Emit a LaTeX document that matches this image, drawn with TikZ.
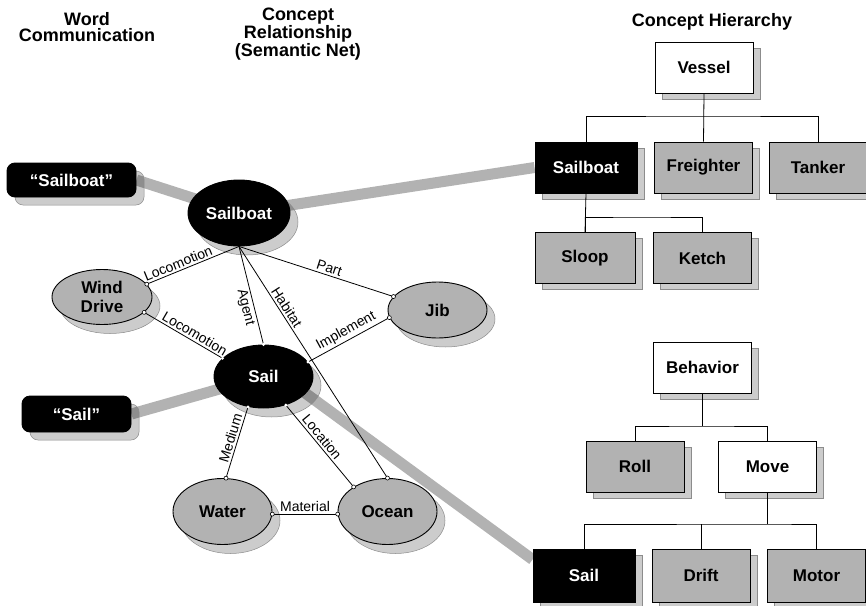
\documentclass[tikz,border=0pt]{standalone}
\usepackage{fontspec}
\setmainfont{Liberation Sans}
\usetikzlibrary{shapes.geometric,shadows,backgrounds}
\tikzset{% shared looks
    >=latex,
    ovalsh/.style={general shadow={shadow xshift=8pt, shadow yshift=-9pt, fill=black, fill opacity=.2, draw=black!45, line width=.5pt}},
    boxsh/.style={general shadow={shadow xshift=7pt, shadow yshift=-6pt, fill=black, fill opacity=.2, draw=black!45, line width=.5pt}},
    head/.style={align=center, font=\fontsize{18}{16.5}\selectfont\bfseries},
    concept/.style={ellipse, draw, line width=.9pt, fill=black!30, inner sep=0pt, ovalsh, font=\fontsize{17}{19}\selectfont\bfseries, align=center},
    keyconcept/.style={concept, fill=black, text=white},
    word/.style={rectangle, rounded corners=8pt, draw, line width=.9pt, fill=black, text=white, inner sep=0pt, general shadow={shadow xshift=8pt, shadow yshift=-8pt, fill=black, fill opacity=.2, draw=black!45, line width=.5pt}, font=\fontsize{17}{19}\selectfont\bfseries},
    class/.style={rectangle, draw, line width=.9pt, fill=black!30, inner sep=0pt, minimum width=98pt, minimum height=51pt, boxsh, font=\fontsize{17}{19}\selectfont\bfseries},
    keyclass/.style={class, fill=black, text=white},
    topclass/.style={class, fill=white},
    rel/.style={line width=.8pt},
    lab/.style={font=\fontsize{14}{15}\selectfont, inner sep=2pt, sloped},
    link/.style={line width=11pt, black!30},
    tree/.style={line width=.8pt}
}
\begin{document}
\begin{tikzpicture}[x=1pt,y=-1pt]
    \path[use as bounding box,clip] (0,0) rectangle (866,605);

    % headings
    \node[head] (hword) at (87,27) {Word\\Communication};
    \node[head] (hnet) at (298,34) {Concept\\Relationship\\(Semantic Net)};
    \node[head] (htree) at (712,22) {Concept Hierarchy};

    % words
    \node[word, minimum width=129pt, minimum height=34pt] (wsb) at (71.5,180) {“Sailboat”};
    \node[word, minimum width=109pt, minimum height=36pt] (ws) at (76.5,414) {“Sail”};

    % semantic net
    \node[keyconcept, minimum width=102pt, minimum height=66pt] (sb) at (239,213) {Sailboat};
    \node[concept, minimum width=100pt, minimum height=55pt] (wind) at (102,297) {Wind\\Drive};
    \node[concept, minimum width=99pt, minimum height=56pt] (jib) at (437.5,310) {Jib};
    \node[keyconcept, minimum width=99pt, minimum height=63pt] (sail) at (263.5,376.5) {Sail};
    \node[concept, minimum width=99pt, minimum height=66pt] (water) at (222.5,511.5) {Water};
    \node[concept, minimum width=99pt, minimum height=66pt] (ocean) at (387.5,511.5) {Ocean};

    % vessel tree
    \node[topclass] (vessel) at (704,67.5) {Vessel};
    \node[keyclass, minimum width=102pt] (sbH) at (586,167.5) {Sailboat};
    \node[class] (fr) at (703.5,167.5) {Freighter};
    \node[class] (tanker) at (818,167.5) {Tanker};
    \node[class, minimum width=100pt] (sloop) at (585,258) {Sloop};
    \node[class] (ketch) at (702.5,258) {Ketch};

    % behavior tree
    \node[topclass] (behav) at (702.5,367.5) {Behavior};
    \node[class] (roll) at (635,466.5) {Roll};
    \node[topclass] (move) at (767.5,466.5) {Move};
    \node[keyclass, minimum width=102pt, minimum height=53pt] (sailH) at (584,575.5) {Sail};
    \node[class, minimum height=53pt] (drift) at (701,575.5) {Drift};
    \node[class, minimum height=53pt] (motor) at (816.5,575.5) {Motor};

    % tree lines
    \coordinate (vbus) at (704,116);
    \coordinate (sbus) at (640,217);
    \coordinate (bbus) at (702,426);
    \coordinate (mbus) at (767,524);
    \draw[tree] (vessel.south) -- (fr.north);
    \draw[tree] (sbH.north) |- (vbus) -| (tanker.north);
    \draw[tree] (sbH.south) -- (sloop.north);
    \draw[tree] (sloop.north) |- (sbus) -| (ketch.north);
    \draw[tree] (behav.south) -- (behav.south |- bbus);
    \draw[tree] (roll.north) |- (bbus) -| (move.north);
    \draw[tree] (move.south) -- (move.south |- mbus);
    \draw[tree] (drift.north) -- (drift.north |- mbus);
    \draw[tree] (sailH.north) |- (mbus) -| (motor.north);

    % relations
    \draw[rel] (wind.16) -- (sb.south) node[lab, pos=.37, above] {Locomotion};
    \draw[rel] (wind.-20) -- (sail.156) node[lab, pos=.6, above] {Locomotion};
    \draw[rel] (sb.south) -- (sail.90) node[lab, pos=.6, below] {Agent};
    \draw[rel] (sb.south) -- (ocean.90) node[lab, pos=.28, above] {Habitat};
    \draw[rel] (sb.south) -- (jib.163) node[lab, pos=.57, above] {Part};
    \draw[rel] (sail.18) -- (jib.189) node[lab, pos=.52, above] {Implement};
    \draw[rel] (sail.-117) -- (water.84) node[lab, pos=.47, above] {Medium};
    \draw[rel] (sail.-52) -- (ocean.144) node[lab, pos=.45, above] {Location};
    \draw[rel] (water.-3) -- (ocean.183) node[lab, midway, above] {Material};

    % end points
    \foreach \p in {wind.16, wind.-20, jib.163, jib.189, water.84, water.-3, ocean.183, ocean.144, ocean.90}
        \filldraw[fill=white, line width=.6pt] (\p) circle (2);
    \foreach \p in {sail.90, sail.156, sail.18, sail.-117, sail.-52}
        \fill[white] (\p) circle (1.6);

    % word -> concept -> class links
    \begin{scope}[on background layer]
        \draw[link] (wsb.east) -- (sb.center);
        \draw[link] (sb.center) -- (sbH.west);
        \draw[link] (ws.east) -- (sail.center);
        \draw[link] ([yshift=14pt]sail.center) -- ([yshift=16pt]sailH.west);
    \end{scope}
\end{tikzpicture}
\end{document}
